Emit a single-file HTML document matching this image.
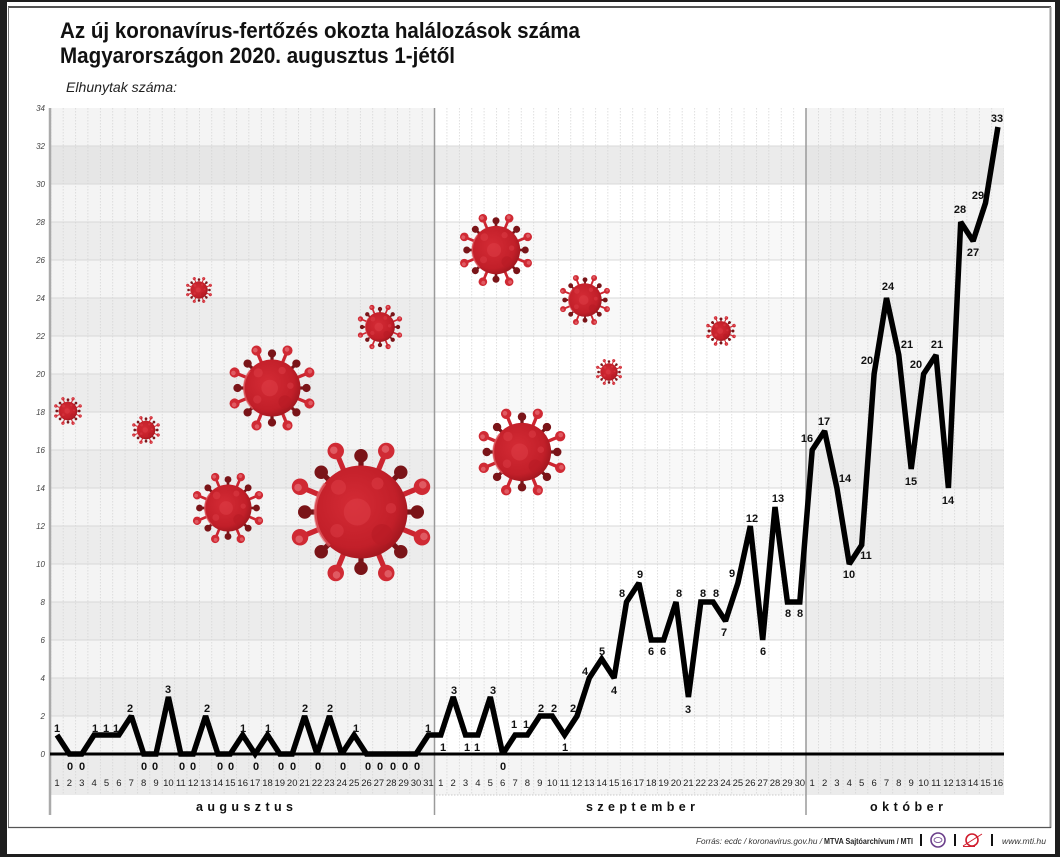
<!DOCTYPE html>
<html><head><meta charset="utf-8"><style>
html,body{margin:0;padding:0;background:#1e1e1e;}
svg{display:block;}
</style></head><body>
<svg width="1060" height="857" viewBox="0 0 1060 857" xmlns="http://www.w3.org/2000/svg" xmlns:xlink="http://www.w3.org/1999/xlink" font-family="'Liberation Sans', sans-serif">
<defs>
<radialGradient id="bg" cx="0.42" cy="0.42" r="0.62">
<stop offset="0" stop-color="#d42b35"/><stop offset="0.75" stop-color="#c21f29"/><stop offset="1" stop-color="#a0161e"/>
</radialGradient>
<g id="L"><path d="M0,-56V-84" stroke="#cc2530" stroke-width="7" stroke-linecap="round"/><circle cy="-88" r="11" fill="#d02a34"/><circle cx="-2" cy="-90" r="5" fill="#e05a62"/></g>
<g id="D"><path d="M0,-56V-72" stroke="#7a1418" stroke-width="7"/><circle cy="-75" r="9" fill="#7a1418"/></g>
<symbol id="v" viewBox="-100 -100 200 200">
<use href="#D" transform="rotate(0)"/><use href="#D" transform="rotate(45)"/><use href="#D" transform="rotate(90)"/><use href="#D" transform="rotate(135)"/>
<use href="#D" transform="rotate(180)"/><use href="#D" transform="rotate(225)"/><use href="#D" transform="rotate(270)"/><use href="#D" transform="rotate(315)"/>
<use href="#L" transform="rotate(22.5)"/><use href="#L" transform="rotate(67.5)"/><use href="#L" transform="rotate(112.5)"/><use href="#L" transform="rotate(157.5)"/>
<use href="#L" transform="rotate(202.5)"/><use href="#L" transform="rotate(247.5)"/><use href="#L" transform="rotate(292.5)"/><use href="#L" transform="rotate(337.5)"/>
<circle r="62" fill="url(#bg)"/>
<path d="M-48,-38 A62,62 0 0 0 -42,45" stroke="#e66a70" stroke-width="4" fill="none" opacity=".6"/>
<circle cx="-5" cy="0" r="18" fill="#dc3c46" opacity=".55"/>
<circle cx="-30" cy="-33" r="10" fill="#dc3c46" opacity=".55"/>
<circle cx="22" cy="-38" r="8" fill="#dc3c46" opacity=".55"/>
<circle cx="28" cy="30" r="14" fill="#b81a24" opacity=".6"/>
<circle cx="-32" cy="25" r="9" fill="#dc3c46" opacity=".5"/>
<circle cx="40" cy="-5" r="7" fill="#dc3c46" opacity=".5"/>
</symbol>
<pattern id="vd" patternUnits="userSpaceOnUse" x="62.8" y="0" width="12.38" height="3">
<rect width="0.7" height="1.5" fill="#d2d2d2"/>
</pattern>
</defs>

<!-- frame -->
<rect x="0" y="0" width="1060" height="857" fill="#1e1e1e"/>
<rect x="7" y="2" width="1048" height="852" fill="#ffffff"/>
<line x1="8" y1="7" x2="1051" y2="7" stroke="#1a1a1a" stroke-width="1.5"/>
<line x1="8.5" y1="7" x2="8.5" y2="828" stroke="#777" stroke-width="1"/>
<line x1="1050.5" y1="7" x2="1050.5" y2="828" stroke="#999" stroke-width="2"/>
<line x1="8" y1="827.5" x2="1051" y2="827.5" stroke="#555" stroke-width="1.2"/>

<!-- titles -->
<text x="60" y="38" font-size="22" font-weight="bold" fill="#111" textLength="520" lengthAdjust="spacingAndGlyphs">Az új koronavírus-fertőzés okozta halálozások száma</text>
<text x="60" y="63" font-size="22" font-weight="bold" fill="#111" textLength="395" lengthAdjust="spacingAndGlyphs">Magyarországon 2020. augusztus 1-jétől</text>
<text x="66" y="92" font-size="14" font-style="italic" fill="#222" textLength="111" lengthAdjust="spacingAndGlyphs">Elhunytak száma:</text>

<!-- section backgrounds -->
<rect x="50" y="108" width="384" height="646" fill="#f4f4f4"/>
<rect x="434" y="108" width="372" height="646" fill="#ffffff"/>
<rect x="806" y="108" width="198" height="646" fill="#f4f4f4"/>
<path d="M50,678h384v38h-384zM50,602h384v38h-384zM50,526h384v38h-384zM50,450h384v38h-384zM50,374h384v38h-384zM50,298h384v38h-384zM50,222h384v38h-384zM806,678h198v38h-198zM806,602h198v38h-198zM806,526h198v38h-198zM806,450h198v38h-198zM806,374h198v38h-198zM806,298h198v38h-198zM806,222h198v38h-198z" fill="#ececec"/>
<path d="M434,678h372v38h-372zM434,602h372v38h-372zM434,526h372v38h-372zM434,450h372v38h-372zM434,374h372v38h-372zM434,298h372v38h-372zM434,222h372v38h-372z" fill="#f8f8f8"/>
<rect x="50" y="146" width="384" height="38" fill="#e6e6e6"/>
<rect x="434" y="146" width="372" height="38" fill="#ebebeb"/>
<rect x="806" y="146" width="198" height="38" fill="#e6e6e6"/>
<!-- below axis band -->
<rect x="50" y="755" width="384" height="40" fill="#ebebeb"/>
<rect x="434" y="755" width="372" height="40" fill="#f4f4f4"/>
<rect x="806" y="755" width="198" height="40" fill="#ebebeb"/>
<line x1="436" y1="795" x2="806" y2="795" stroke="#bbb" stroke-width="0.8" stroke-dasharray="1.5 1.5"/>

<!-- horizontal grid -->
<g stroke="#d9d9d9" stroke-width="1">
<line x1="50" y1="716" x2="1004" y2="716"/><line x1="50" y1="678" x2="1004" y2="678"/><line x1="50" y1="640" x2="1004" y2="640"/><line x1="50" y1="602" x2="1004" y2="602"/>
<line x1="50" y1="564" x2="1004" y2="564"/><line x1="50" y1="526" x2="1004" y2="526"/><line x1="50" y1="488" x2="1004" y2="488"/><line x1="50" y1="450" x2="1004" y2="450"/>
<line x1="50" y1="412" x2="1004" y2="412"/><line x1="50" y1="374" x2="1004" y2="374"/><line x1="50" y1="336" x2="1004" y2="336"/><line x1="50" y1="298" x2="1004" y2="298"/>
<line x1="50" y1="260" x2="1004" y2="260"/><line x1="50" y1="222" x2="1004" y2="222"/><line x1="50" y1="184" x2="1004" y2="184"/><line x1="50" y1="146" x2="1004" y2="146"/>
</g>
<!-- vertical dashed grid -->
<rect x="51" y="108" width="953" height="687" fill="url(#vd)"/>

<!-- separators -->
<line x1="50" y1="108" x2="50" y2="815" stroke="#aaa" stroke-width="2.5"/>
<line x1="434.5" y1="108" x2="434.5" y2="815" stroke="#9a9a9a" stroke-width="1.5"/>
<line x1="806" y1="108" x2="806" y2="815" stroke="#9a9a9a" stroke-width="1.5"/>

<!-- viruses -->
<use href="#v" x="53" y="396" width="30" height="30"/>
<use href="#v" x="131" y="415" width="30" height="30"/>
<use href="#v" x="185" y="276" width="28" height="28"/>
<use href="#v" x="226" y="342" width="92" height="92"/>
<use href="#v" x="190" y="470" width="76" height="76"/>
<use href="#v" x="356" y="303" width="48" height="48"/>
<use href="#v" x="286" y="437" width="150" height="150"/>
<use href="#v" x="457" y="211" width="78" height="78"/>
<use href="#v" x="558" y="273" width="54" height="54"/>
<use href="#v" x="595" y="358" width="28" height="28"/>
<use href="#v" x="475" y="405" width="94" height="94"/>
<use href="#v" x="705" y="315" width="32" height="32"/>

<!-- y labels -->
<g font-size="8" font-style="italic" fill="#444" text-anchor="end">
<text x="45" y="757">0</text><text x="45" y="719">2</text><text x="45" y="681">4</text><text x="45" y="643">6</text><text x="45" y="605">8</text>
<text x="45" y="567">10</text><text x="45" y="529">12</text><text x="45" y="491">14</text><text x="45" y="453">16</text><text x="45" y="415">18</text>
<text x="45" y="377">20</text><text x="45" y="339">22</text><text x="45" y="301">24</text><text x="45" y="263">26</text><text x="45" y="225">28</text>
<text x="45" y="187">30</text><text x="45" y="149">32</text><text x="45" y="111">34</text>
</g>

<!-- axis -->
<line x1="50" y1="754" x2="1004" y2="754" stroke="#000" stroke-width="3"/>

<!-- data line -->
<polyline fill="none" stroke="#000" stroke-width="5.5" stroke-linejoin="miter" stroke-miterlimit="2" points="57,735 69.4,754 81.8,754 94.1,735 106.5,735 118.9,735 131.3,716 143.7,754 156,754 168.4,697 180.8,754 193.2,754 205.6,716 217.9,754 230.3,754 242.7,735 255.1,754 267.5,735 279.8,754 292.2,754 304.6,716 317,754 329.4,716 341.7,754 354.1,735 366.5,754 378.9,754 391.3,754 403.6,754 416,754 428.4,735 440.8,735 453.2,697 465.5,735 477.9,735 490.3,697 502.7,754 515.1,735 527.4,735 539.8,716 552.2,716 564.6,735 577,716 589.3,678 601.7,659 614.1,678 626.5,602 638.9,583 651.2,640 663.6,640 676,602 688.4,697 700.8,602 713.1,602 725.5,621 737.9,583 750.3,526 762.7,640 775,507 787.4,602 799.8,602 812.2,450 824.6,431 836.9,488 849.3,564 861.7,545 874.1,374 886.5,298 898.8,355 911.2,469 923.6,374 936,355 948.4,488 960.7,222 973.1,241 985.5,203 997.9,127"/>

<!-- data labels -->
<g font-size="11" font-weight="bold" fill="#111" text-anchor="middle">
<text x="57" y="732">1</text><text x="70" y="770">0</text><text x="82" y="770">0</text><text x="95" y="732">1</text><text x="106" y="732">1</text><text x="116" y="732">1</text>
<text x="130" y="712">2</text><text x="144" y="770">0</text><text x="155" y="770">0</text><text x="168" y="693">3</text><text x="182" y="770">0</text><text x="193" y="770">0</text>
<text x="207" y="712">2</text><text x="220" y="770">0</text><text x="231" y="770">0</text><text x="243" y="732">1</text><text x="256" y="770">0</text><text x="268" y="732">1</text>
<text x="281" y="770">0</text><text x="293" y="770">0</text><text x="305" y="712">2</text><text x="318" y="770">0</text><text x="330" y="712">2</text><text x="343" y="770">0</text>
<text x="356" y="732">1</text><text x="368" y="770">0</text><text x="380" y="770">0</text><text x="393" y="770">0</text><text x="405" y="770">0</text><text x="417" y="770">0</text>
<text x="428" y="732">1</text>
<text x="443" y="751">1</text><text x="454" y="694">3</text><text x="467" y="751">1</text><text x="477" y="751">1</text><text x="493" y="694">3</text><text x="503" y="770">0</text>
<text x="514" y="728">1</text><text x="526" y="728">1</text><text x="541" y="712">2</text><text x="554" y="712">2</text><text x="565" y="751">1</text><text x="573" y="712">2</text>
<text x="585" y="675">4</text><text x="602" y="655">5</text><text x="614" y="694">4</text><text x="622" y="597">8</text><text x="640" y="578">9</text><text x="651" y="655">6</text>
<text x="663" y="655">6</text><text x="679" y="597">8</text><text x="688" y="713">3</text><text x="703" y="597">8</text><text x="716" y="597">8</text><text x="724" y="636">7</text>
<text x="732" y="577">9</text><text x="752" y="522">12</text><text x="763" y="655">6</text><text x="778" y="502">13</text><text x="788" y="617">8</text><text x="800" y="617">8</text>
<text x="807" y="442">16</text><text x="824" y="425">17</text><text x="845" y="482">14</text><text x="849" y="578">10</text><text x="866" y="559">11</text><text x="867" y="364">20</text>
<text x="888" y="290">24</text><text x="907" y="348">21</text><text x="911" y="485">15</text><text x="916" y="368">20</text><text x="937" y="348">21</text><text x="948" y="504">14</text>
<text x="960" y="213">28</text><text x="973" y="256">27</text><text x="978" y="199">29</text><text x="997" y="122">33</text>
</g>

<!-- x date labels -->
<g font-size="9.5" fill="#222" text-anchor="middle">
<text x="57" y="786">1</text><text x="69.4" y="786">2</text><text x="81.8" y="786">3</text><text x="94.1" y="786">4</text><text x="106.5" y="786">5</text><text x="118.9" y="786">6</text><text x="131.3" y="786">7</text><text x="143.7" y="786">8</text><text x="156" y="786">9</text><text x="168.4" y="786">10</text>
<text x="180.8" y="786">11</text><text x="193.2" y="786">12</text><text x="205.6" y="786">13</text><text x="217.9" y="786">14</text><text x="230.3" y="786">15</text><text x="242.7" y="786">16</text><text x="255.1" y="786">17</text><text x="267.5" y="786">18</text><text x="279.8" y="786">19</text><text x="292.2" y="786">20</text>
<text x="304.6" y="786">21</text><text x="317" y="786">22</text><text x="329.4" y="786">23</text><text x="341.7" y="786">24</text><text x="354.1" y="786">25</text><text x="366.5" y="786">26</text><text x="378.9" y="786">27</text><text x="391.3" y="786">28</text><text x="403.6" y="786">29</text><text x="416" y="786">30</text><text x="428.4" y="786">31</text>
<text x="440.8" y="786">1</text><text x="453.2" y="786">2</text><text x="465.5" y="786">3</text><text x="477.9" y="786">4</text><text x="490.3" y="786">5</text><text x="502.7" y="786">6</text><text x="515.1" y="786">7</text><text x="527.4" y="786">8</text><text x="539.8" y="786">9</text><text x="552.2" y="786">10</text>
<text x="564.6" y="786">11</text><text x="577" y="786">12</text><text x="589.3" y="786">13</text><text x="601.7" y="786">14</text><text x="614.1" y="786">15</text><text x="626.5" y="786">16</text><text x="638.9" y="786">17</text><text x="651.2" y="786">18</text><text x="663.6" y="786">19</text><text x="676" y="786">20</text>
<text x="688.4" y="786">21</text><text x="700.8" y="786">22</text><text x="713.1" y="786">23</text><text x="725.5" y="786">24</text><text x="737.9" y="786">25</text><text x="750.3" y="786">26</text><text x="762.7" y="786">27</text><text x="775" y="786">28</text><text x="787.4" y="786">29</text><text x="799.8" y="786">30</text>
<text x="812.2" y="786">1</text><text x="824.6" y="786">2</text><text x="836.9" y="786">3</text><text x="849.3" y="786">4</text><text x="861.7" y="786">5</text><text x="874.1" y="786">6</text><text x="886.5" y="786">7</text><text x="898.8" y="786">8</text><text x="911.2" y="786">9</text><text x="923.6" y="786">10</text>
<text x="936" y="786">11</text><text x="948.4" y="786">12</text><text x="960.7" y="786">13</text><text x="973.1" y="786">14</text><text x="985.5" y="786">15</text><text x="997.9" y="786">16</text>
</g>

<!-- month labels -->
<g font-size="12.5" font-weight="bold" fill="#111">
<text x="196" y="811" textLength="97" lengthAdjust="spacing">a u g u s z t u s</text>
<text x="586" y="811" textLength="109" lengthAdjust="spacing">s z e p t e m b e r</text>
<text x="870" y="811" textLength="73" lengthAdjust="spacing">o k t ó b e r</text>
</g>

<!-- footer -->
<text x="696" y="844" font-size="8.5" font-style="italic" fill="#333" textLength="126" lengthAdjust="spacingAndGlyphs">Forrás: ecdc / koronavirus.gov.hu /</text>
<text x="824" y="844" font-size="8.5" font-weight="bold" fill="#222" textLength="89" lengthAdjust="spacingAndGlyphs">MTVA Sajtóarchívum / MTI</text>
<rect x="920" y="834" width="2" height="12" fill="#111"/>
<circle cx="938" cy="840" r="7" fill="#fff" stroke="#6a3d8a" stroke-width="1.6"/>
<ellipse cx="938" cy="840" rx="4" ry="2.5" fill="none" stroke="#6a3d8a" stroke-width="0.8"/>
<rect x="954" y="834" width="2" height="12" fill="#111"/>
<circle cx="972" cy="840" r="6" fill="none" stroke="#d01e2e" stroke-width="1.6"/>
<line x1="963" y1="846" x2="982" y2="834" stroke="#d01e2e" stroke-width="1"/>
<line x1="963" y1="846.5" x2="975" y2="846.5" stroke="#d01e2e" stroke-width="1"/>
<rect x="991" y="834" width="2" height="12" fill="#111"/>
<text x="1002" y="844" font-size="8.5" font-style="italic" fill="#333" textLength="44" lengthAdjust="spacingAndGlyphs">www.mti.hu</text>
</svg>
</body></html>
